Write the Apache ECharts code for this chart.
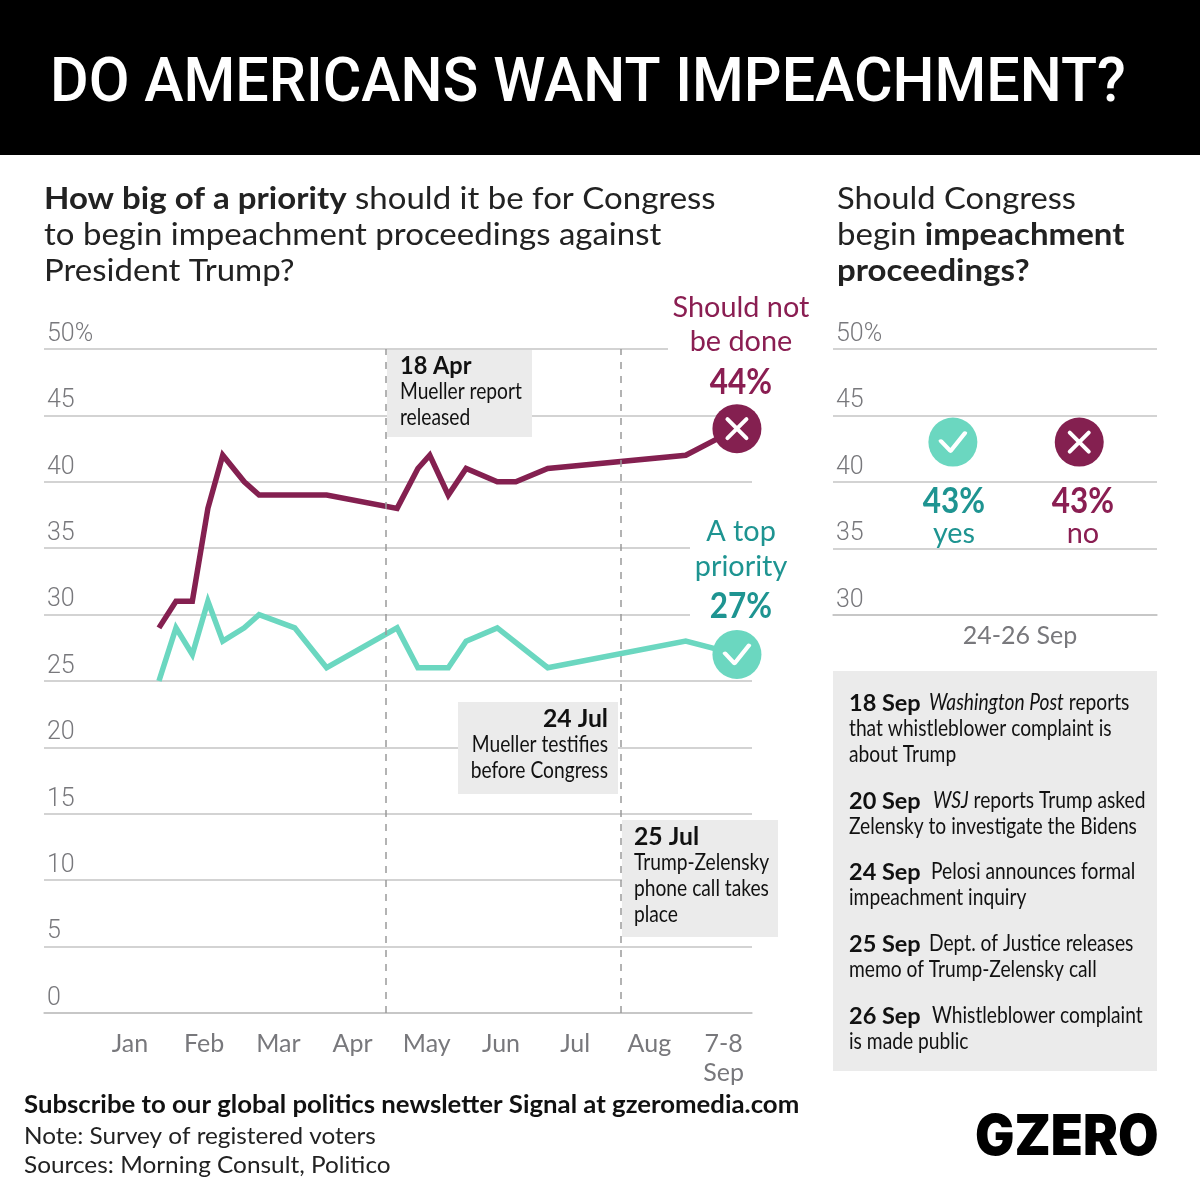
<!DOCTYPE html>
<html>
<head>
<meta charset="utf-8">
<title>Do Americans want impeachment?</title>
<style>
html,body{margin:0;padding:0;background:#fff;}
#main{width:1200px;height:1191px;}
</style>
<script src="https://cdn.jsdelivr.net/npm/echarts@6/dist/echarts.min.js"></script>
</head>
<body>
<div id="main"></div>
<script>
// 数据
var monthLabels = ['Jan','Feb','Mar','Apr','May','Jun','Jul','Aug','7-8\nSep'];
var monthTicks = [0,1,2,3,4,5,6,7,8];
// position of each poll on the month scale (0 = Jan label)
var pollMonths = [0.39,0.62,0.84,1.05,1.25,1.54,1.74,2.22,2.65,3.60,3.88,4.04,4.29,4.53,4.95,5.20,5.63,7.49,8.18];
var shouldNot =  [29,31,31,38,42,40,39,39,39,38,41,42,39,41,40,40,41,42,44];
var topPriority = [25,29,27,31,28,29,30,29,26,29,26,null,26,28,29,null,26,28,27];
var eventMonths = [3.45,6.62];
var latestYes = 43;
var latestNo = 43;
var latestLabel = '24-26 Sep';

var MAROON = '#842050', TEAL = '#6BD7C0', TEAL_TXT = '#1E9491', MAROON_TXT = '#8A1E52';
var GREY = '#78787c', LINE = '#c4c4c4', BOX = '#ebebeb';
var SANS = 'Lato';
var checkPath = 'path://M0 9L10 18L25 2';
var crossPath = 'path://M0 0L16 16M16 0L0 16';
var NARROW = 0.835; // the original body face is condensed

function zip(xs,ys){
	var arr = [];
	for(var i=0;i<xs.length;i++){
		arr.push([xs[i],ys[i]]);
	}
	return arr;
}
function txt(x,y,text,size,color,o){
	o = o || {};
	return {
		type:'text',x:x,y:y,z:o.z||6,scaleX:o.sx||1,
		style:{
			text:text,fill:color,
			font:(o.weight||'normal')+' '+size+'px '+(o.family||SANS),
			textAlign:o.align||'left',textVerticalAlign:'middle',
			rich:o.rich
		}
	};
}
function rect(x,y,w,h,fill,z){
	return {type:'rect',z:z||1,shape:{x:x,y:y,width:w,height:h},style:{fill:fill}};
}
var boldHead = {b:{font:'bold 30px '+SANS,fill:'#222'}};
var bodyRich = {
	i:{font:'italic 23px '+SANS,fill:'#111'},
	n:{font:'23px '+SANS,fill:'#111'}
};

var el = [
	rect(0,0,1200,155,'#000',10),
	txt(50,85,'DO AMERICANS WANT IMPEACHMENT?',62,'#fff',{z:11,family:'Roboto',weight:500,sx:0.955}),
	// 标题
	txt(44,199,'{b|How big of a priority} should it be for Congress',30,'#222',{rich:boldHead,sx:1.1}),
	txt(44,235,'to begin impeachment proceedings against',30,'#222',{sx:1.1}),
	txt(44,271,'President Trump?',30,'#222',{sx:1.1}),
	txt(837,199,'Should Congress',30,'#222',{sx:1.09}),
	txt(837,235,'begin {b|impeachment}',30,'#222',{rich:boldHead,sx:1.1}),
	txt(837,271,'proceedings?',30,'#222',{weight:'bold',sx:1.1}),
	// end labels, white rects cut the gridlines
	rect(668,340,90,16,'#fff',1),
	rect(690,520,64,105,'#fff',1),
	txt(741,308,'Should not',28,MAROON_TXT,{align:'center',sx:1.03}),
	txt(741,342,'be done',28,MAROON_TXT,{align:'center',sx:1.03}),
	txt(741,382,'44%',37,MAROON_TXT,{align:'center',weight:'bold',sx:0.85}),
	txt(741,532,'A top',28,TEAL_TXT,{align:'center',sx:1.03}),
	txt(741,567,'priority',28,TEAL_TXT,{align:'center',sx:1.03}),
	txt(741,606,'27%',37,TEAL_TXT,{align:'center',weight:'bold',sx:0.85}),
	// callouts
	rect(387,350,145,87,BOX),
	txt(400,366,'18 Apr',24,'#111',{weight:'bold',sx:0.98}),
	txt(400,392,'Mueller report',23,'#111',{sx:NARROW}),
	txt(400,418,'released',23,'#111',{sx:NARROW}),
	rect(458,702,160,92,BOX),
	txt(608,719,'24 Jul',24,'#111',{weight:'bold',align:'right',sx:1.03}),
	txt(608,745,'Mueller testifies',23,'#111',{align:'right',sx:NARROW}),
	txt(608,771,'before Congress',23,'#111',{align:'right',sx:NARROW}),
	rect(622,820,156,117,BOX),
	txt(634,837,'25 Jul',24,'#111',{weight:'bold',sx:1.03}),
	txt(634,863,'Trump-Zelensky',23,'#111',{sx:NARROW}),
	txt(634,889,'phone call takes',23,'#111',{sx:NARROW}),
	txt(634,915,'place',23,'#111',{sx:NARROW}),
	// right chart labels
	txt(954,501,'43%',37,TEAL_TXT,{align:'center',weight:'bold',sx:0.85}),
	txt(954,534,'yes',28,TEAL_TXT,{align:'center',sx:1.03}),
	txt(1083,501,'43%',37,MAROON_TXT,{align:'center',weight:'bold',sx:0.85}),
	txt(1083,534,'no',28,MAROON_TXT,{align:'center',sx:1.03}),
	// timeline box
	rect(833,671,324,400,BOX)
];
var timeline = [
	[703,'18 Sep',929,'{i|Washington Post} {n|reports}'],
	[729,'',849,'{n|that whistleblower complaint is}'],
	[755,'',849,'{n|about Trump}'],
	[801,'20 Sep',933,'{i|WSJ} {n|reports Trump asked}'],
	[827,'',849,'{n|Zelensky to investigate the Bidens}'],
	[872,'24 Sep',931,'{n|Pelosi announces formal}'],
	[898,'',849,'{n|impeachment inquiry}'],
	[944,'25 Sep',929,'{n|Dept. of Justice releases}'],
	[970,'',849,'{n|memo of Trump-Zelensky call}'],
	[1016,'26 Sep',932,'{n|Whistleblower complaint}'],
	[1042,'',849,'{n|is made public}']
];
for(var t=0;t<timeline.length;t++){
	var row = timeline[t];
	if(row[1]){
		el.push(txt(849,row[0],row[1],23.5,'#111',{weight:'bold'}));
	}
	el.push(txt(row[2],row[0],row[3],23,'#111',{rich:bodyRich,sx:NARROW}));
}
el.push(txt(24,1105,'Subscribe to our global politics newsletter Signal at gzeromedia.com',24,'#111',{weight:'bold',sx:1.073}));
el.push(txt(24,1137,'Note: Survey of registered voters',23,'#222',{sx:1.057}));
el.push(txt(24,1166,'Sources: Morning Consult, Politico',23,'#222',{sx:1.06}));
el.push(txt(975,1138,'GZERO',56,'#000',{weight:900,family:'Inter',sx:0.935}));

function yAxisOf(idx,min){
	return {
		type:'value',gridIndex:idx,min:min,max:50,interval:5,
		axisLine:{show:false},axisTick:{show:false},
		splitLine:{lineStyle:{color:LINE,width:1.5}},
		axisLabel:{formatter:function(v){return v==50?'50%':v;},
			color:GREY,fontFamily:'Roboto',fontWeight:300,fontSize:25,
			inside:true,margin:3,verticalAlign:'bottom',padding:[0,0,2,0]}
	};
}
function endMark(name,color,x,y,xi,yi){
	return {name:name,type:'scatter',xAxisIndex:xi,yAxisIndex:yi,z:6,symbol:'circle',symbolSize:49,
		itemStyle:{color:color,opacity:1},data:[[x,y]],silent:true};
}
function iconMark(name,path,size,x,y,xi,yi){
	return {name:name,type:'scatter',xAxisIndex:xi,yAxisIndex:yi,z:7,symbol:path,symbolSize:size,
		itemStyle:{color:'transparent',borderColor:'#fff',borderWidth:4,borderCap:'round',borderJoin:'round',opacity:1},data:[[x,y]],silent:true};
}
var lastX = pollMonths[pollMonths.length-1];

var myChart = echarts.init(document.getElementById('main'),null,{renderer:'canvas'});
myChart.setOption({
	animation:false,
	backgroundColor:'#fff',
	graphic:{elements:el},
	grid:[
		{left:44,top:349,width:708,height:664},
		{left:833,top:349,width:324,height:266}
	],
	xAxis:[
		{type:'value',gridIndex:0,min:-1.159,max:8.383,splitLine:{show:false},axisTick:{show:false},
			axisLine:{lineStyle:{color:LINE,width:1.5}},
			axisLabel:{customValues:monthTicks,formatter:function(v){return monthLabels[v];},
				color:GREY,fontFamily:SANS,fontSize:25,lineHeight:29,margin:16}},
		{type:'value',gridIndex:1,min:0,max:1,splitLine:{show:false},axisTick:{show:false},
			axisLine:{lineStyle:{color:LINE,width:1.5}},
			axisLabel:{customValues:[0.577],formatter:function(){return latestLabel;},
				color:GREY,fontFamily:SANS,fontSize:25,margin:8}}
	],
	yAxis:[yAxisOf(0,0),yAxisOf(1,30)],
	series:[
		{name:'A top priority',type:'line',data:zip(pollMonths,topPriority),connectNulls:true,symbol:'none',z:3,
			lineStyle:{color:TEAL,width:5.5,join:'miter',miterLimit:10,cap:'butt'}},
		{name:'Should not be done',type:'line',data:zip(pollMonths,shouldNot),symbol:'none',z:3,
			lineStyle:{color:MAROON,width:5.5,join:'miter',miterLimit:10,cap:'butt'},
			markLine:{silent:true,symbol:'none',z:4,label:{show:false},
				lineStyle:{color:'#9a9a9a',width:1.5,type:[7,7]},
				data:[{xAxis:eventMonths[0]},{xAxis:eventMonths[1]}]}},
		endMark('end no',MAROON,lastX,shouldNot[shouldNot.length-1],0,0),
		iconMark('end no icon',crossPath,19,lastX,shouldNot[shouldNot.length-1],0,0),
		endMark('end yes',TEAL,lastX,topPriority[topPriority.length-1],0,0),
		iconMark('end yes icon',checkPath,[24,18],lastX,topPriority[topPriority.length-1],0,0),
		endMark('yes',TEAL,0.37,latestYes,1,1),
		iconMark('yes icon',checkPath,[24,18],0.37,latestYes,1,1),
		endMark('no',MAROON,0.76,latestNo,1,1),
		iconMark('no icon',crossPath,19,0.76,latestNo,1,1)
	]
});
</script>
</body>
</html>
